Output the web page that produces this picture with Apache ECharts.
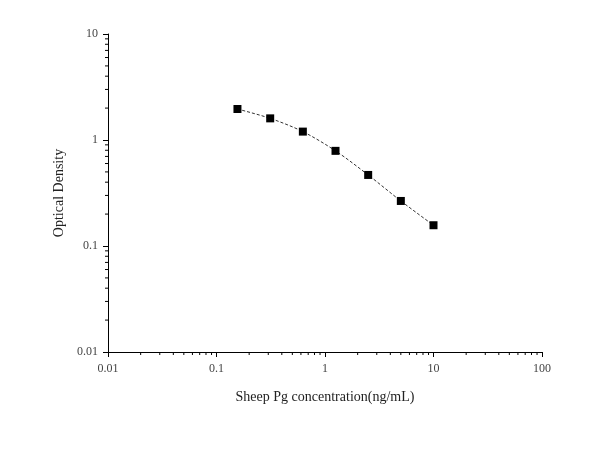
<!DOCTYPE html>
<html><head><meta charset="utf-8">
<script src="https://cdn.jsdelivr.net/npm/echarts@6/dist/echarts.min.js"></script>
<style>html,body{margin:0;padding:0;background:#fff}#c{width:600px;height:473px}</style>
</head><body><div id="c"></div>
<script>
const concentrations = [0.156, 0.3125, 0.625, 1.25, 2.5, 5, 10];
const odValues = [1.96, 1.60, 1.20, 0.79, 0.468, 0.266, 0.157];
const xDecades = [0.01, 0.1, 1, 10];
const yDecades = [0.01, 0.1, 1];
const xTitle = 'Sheep Pg concentration(ng/mL)';
const yTitle = 'Optical Density';

const xMinor = [], yMinor = [];
xDecades.forEach(d => { for (let m = 2; m <= 9; m++) xMinor.push([d * m, 0.01]); });
yDecades.forEach(d => { for (let m = 2; m <= 9; m++) yMinor.push([0.01, d * m]); });

const chart = echarts.init(document.getElementById('c'), null, {renderer: 'canvas'});
const font = '"Liberation Serif", "DejaVu Serif", serif';
chart.setOption({
  animation: false,
  backgroundColor: '#fff',
  grid: {left: 108, right: 58, top: 34, bottom: 121},
  xAxis: {
    type: 'log', min: 0.01, max: 100, logBase: 10,
    name: xTitle, nameLocation: 'middle', nameGap: 38,
    nameTextStyle: {fontFamily: font, fontSize: 14, color: '#222'},
    axisLine: {lineStyle: {color: '#000', width: 1}},
    axisTick: {inside: false, length: 5, lineStyle: {color: '#000'}},
    axisLabel: {fontFamily: font, fontSize: 12, color: '#444', margin: 11},
    splitLine: {show: false}
  },
  yAxis: {
    type: 'log', min: 0.01, max: 10, logBase: 10,
    name: yTitle, nameLocation: 'middle', nameGap: 40, nameRotate: 90,
    nameTextStyle: {fontFamily: font, fontSize: 14, color: '#222'},
    axisLine: {show: true, lineStyle: {color: '#000', width: 1}},
    axisTick: {show: true, inside: false, length: 5, lineStyle: {color: '#000'}},
    axisLabel: {fontFamily: font, fontSize: 12, color: '#444', margin: 10},
    splitLine: {show: false}
  },
  series: [
    {
      type: 'line', data: concentrations.map((c, i) => [c, odValues[i]]),
      smooth: 0.3, symbol: 'rect', symbolSize: 8,
      itemStyle: {color: '#000'},
      lineStyle: {color: '#333', width: 1, type: [3, 2]}
    },
    {
      type: 'custom', data: xMinor.concat(yMinor), silent: true, clip: false,
      renderItem: function (params, api) {
        const p = api.coord([api.value(0), api.value(1)]);
        const isX = xMinor.length > params.dataIndex;
        return {
          type: 'line',
          shape: isX ? {x1: p[0], y1: p[1], x2: p[0], y2: p[1] + 3}
                     : {x1: p[0], y1: p[1], x2: p[0] - 3, y2: p[1]},
          style: {stroke: '#000', lineWidth: 1}
        };
      }
    }
  ]
});
</script></body></html>
